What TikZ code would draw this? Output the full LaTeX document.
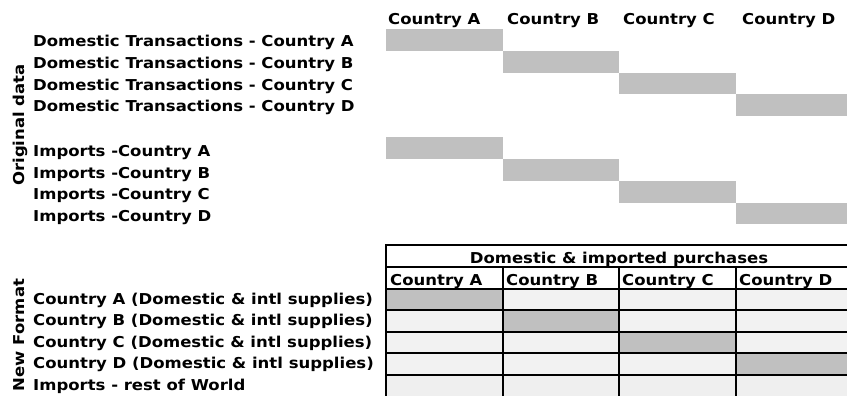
\documentclass[tikz,border=0pt]{standalone}
\usepackage{fontspec}
\setmainfont[FakeStretch=1.10]{DejaVu Sans}
\usepackage{tikz}
\usepackage{xcolor}
\definecolor{barGray}{HTML}{C0C0C0}
\definecolor{cellGray}{HTML}{F2F2F2}
\definecolor{lastGray}{HTML}{EFEFEF}

\begin{document}
\begin{tikzpicture}[x=1pt,y=-1pt,font=\bfseries\fontsize{15}{17}\selectfont,
  lbl/.style={anchor=base west,inner sep=0pt},
  side/.style={anchor=base,rotate=90,inner sep=0pt},
  rule/.style={line width=1.6pt,line cap=rect}]
\useasboundingbox (0,0) rectangle (847,396);
% original data
\node[side] (orig) at (24,125) {Original data};
\node[lbl] (hA) at (388,25) {Country A};
\node[lbl] (hB) at (507,25) {Country B};
\node[lbl] (hC) at (623,25) {Country C};
\node[lbl] (hD) at (742,25) {Country D};
\node[lbl] (dA) at (33,47) {Domestic Transactions - Country A};
\node[lbl] (dB) at (33,69) {Domestic Transactions - Country B};
\node[lbl] (dC) at (33,90.5) {Domestic Transactions - Country C};
\node[lbl] (dD) at (33,112) {Domestic Transactions - Country D};
\node[lbl] (iA) at (33,156.5) {Imports -Country A};
\node[lbl] (iB) at (33,178) {Imports -Country B};
\node[lbl] (iC) at (33,199.5) {Imports -Country C};
\node[lbl] (iD) at (33,221) {Imports -Country D};
\fill[barGray] (386,29) rectangle (503,51);
\fill[barGray] (503,51) rectangle (619,73);
\fill[barGray] (619,73) rectangle (736,94.5);
\fill[barGray] (736,94.5) rectangle (847,116);
\fill[barGray] (386,137) rectangle (503,159);
\fill[barGray] (503,159) rectangle (619,181);
\fill[barGray] (619,181) rectangle (736,202.5);
\fill[barGray] (736,202.5) rectangle (847,224);
% new format
\node[side] (newf) at (24,335) {New Format};
\node[lbl] (nA) at (33,304) {Country A (Domestic \& intl supplies)};
\node[lbl] (nB) at (33,325.5) {Country B (Domestic \& intl supplies)};
\node[lbl] (nC) at (33,347) {Country C (Domestic \& intl supplies)};
\node[lbl] (nD) at (33,368.5) {Country D (Domestic \& intl supplies)};
\node[lbl] (nW) at (33,390) {Imports - rest of World};
\fill[cellGray] (386,289) rectangle (847,375);
\fill[lastGray] (386,375) rectangle (847,396);
\fill[barGray] (386,289) rectangle (503,310);
\fill[barGray] (503,310) rectangle (619,332);
\fill[barGray] (619,332) rectangle (736,353);
\fill[barGray] (736,353) rectangle (847,375);
\draw[rule] (386,245) -- (847,245);
\draw[rule] (386,267) -- (847,267);
\draw[rule] (386,289) -- (847,289);
\draw[rule] (386,310) -- (847,310);
\draw[rule] (386,332) -- (847,332);
\draw[rule] (386,353) -- (847,353);
\draw[rule] (386,375) -- (847,375);
\draw[rule] (386,245) -- (386,396);
\draw[rule] (503,267) -- (503,396);
\draw[rule] (619,267) -- (619,396);
\draw[rule] (736,267) -- (736,396);
\node[anchor=base,inner sep=0pt] (purch) at (619,263) {Domestic \& imported purchases};
\node[lbl] (tA) at (390,285) {Country A};
\node[lbl] (tB) at (506,285) {Country B};
\node[lbl] (tC) at (622,285) {Country C};
\node[lbl] (tD) at (739,285) {Country D};
\end{tikzpicture}
\end{document}
